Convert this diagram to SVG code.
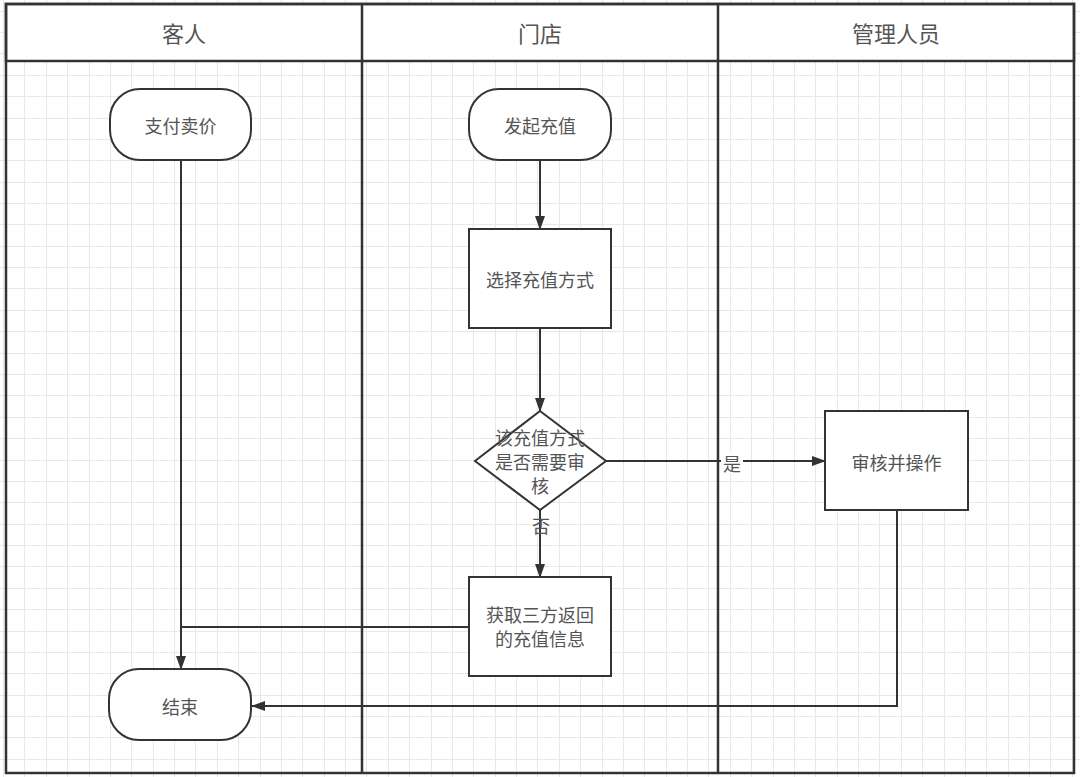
<svg xmlns="http://www.w3.org/2000/svg" width="1080" height="777" viewBox="0 0 1080 777">
<defs>
<marker id="arr" viewBox="0 0 14 12" refX="13" refY="6" markerWidth="14" markerHeight="12" markerUnits="userSpaceOnUse" orient="auto">
<path d="M0 1 L14 6 L0 11 Z" fill="#333"/>
</marker>
<style>
.grid{fill:none;stroke:#e8e8e8;stroke-width:1}
.lane{fill:none;stroke:#333;stroke-width:2.5}
.hdr{fill:#fff;stroke:#333;stroke-width:2.5}
.node{fill:#fff;stroke:#333;stroke-width:2}
.t{font-family:"Noto Sans CJK SC","Liberation Sans",sans-serif;font-size:18px;fill:#555;text-anchor:middle;dominant-baseline:central}
.h{font-size:22px}
.c{fill:none;stroke:#333;stroke-width:2}
</style>
</defs>
<rect x="0" y="0" width="1080" height="777" fill="#fff"/>
<path class="grid" d="M3.5 0V777M24.5 0V777M46.5 0V777M67.5 0V777M89.5 0V777M110.5 0V777M131.5 0V777M153.5 0V777M174.5 0V777M195.5 0V777M217.5 0V777M238.5 0V777M260.5 0V777M281.5 0V777M302.5 0V777M324.5 0V777M345.5 0V777M366.5 0V777M388.5 0V777M409.5 0V777M431.5 0V777M452.5 0V777M473.5 0V777M495.5 0V777M516.5 0V777M537.5 0V777M559.5 0V777M580.5 0V777M602.5 0V777M623.5 0V777M644.5 0V777M666.5 0V777M687.5 0V777M708.5 0V777M730.5 0V777M751.5 0V777M773.5 0V777M794.5 0V777M815.5 0V777M837.5 0V777M858.5 0V777M879.5 0V777M901.5 0V777M922.5 0V777M944.5 0V777M965.5 0V777M986.5 0V777M1008.5 0V777M1029.5 0V777M1050.5 0V777M1072.5 0V777M0 11.5H1080M0 32.5H1080M0 53.5H1080M0 75.5H1080M0 96.5H1080M0 118.5H1080M0 139.5H1080M0 160.5H1080M0 182.5H1080M0 203.5H1080M0 224.5H1080M0 246.5H1080M0 267.5H1080M0 288.5H1080M0 310.5H1080M0 331.5H1080M0 353.5H1080M0 374.5H1080M0 395.5H1080M0 417.5H1080M0 438.5H1080M0 460.5H1080M0 481.5H1080M0 502.5H1080M0 524.5H1080M0 545.5H1080M0 566.5H1080M0 588.5H1080M0 609.5H1080M0 631.5H1080M0 652.5H1080M0 673.5H1080M0 695.5H1080M0 716.5H1080M0 737.5H1080M0 759.5H1080"/>
<g id="lanes">
<rect class="hdr" x="6" y="4" width="1068" height="57"/>
<line class="lane" x1="362" y1="4" x2="362" y2="773"/>
<line class="lane" x1="718" y1="4" x2="718" y2="773"/>
<rect class="lane" x="6" y="4" width="1068" height="769"/>
<text class="t h" x="184" y="32">客人</text>
<text class="t h" x="540" y="32">门店</text>
<text class="t h" x="896" y="32">管理人员</text>
</g>
<g id="connectors">
<line class="c" x1="181" y1="160" x2="181" y2="669" marker-end="url(#arr)"/>
<line class="c" x1="540" y1="160" x2="540" y2="229" marker-end="url(#arr)"/>
<line class="c" x1="540" y1="328" x2="540" y2="411" marker-end="url(#arr)"/>
<line class="c" x1="606" y1="461" x2="825" y2="461" marker-end="url(#arr)"/>
<line class="c" x1="540" y1="510" x2="540" y2="577" marker-end="url(#arr)"/>
<polyline class="c" points="469,627 181,627"/>
<polyline class="c" points="897,510 897,706 252,706" marker-end="url(#arr)"/>
<rect x="721" y="451" width="22" height="22" fill="#fff"/>
<text class="t" x="732" y="463">是</text>
<text class="t" x="541" y="525">否</text>
</g>
<g id="n-pay">
<rect class="node" x="110" y="89" width="141" height="71" rx="30" ry="30"/>
<text class="t" x="180.5" y="125">支付卖价</text>
</g>
<g id="n-start">
<rect class="node" x="469" y="89" width="142" height="71" rx="30" ry="30"/>
<text class="t" x="540" y="125">发起充值</text>
</g>
<g id="n-select">
<rect class="node" x="469" y="229" width="142" height="99"/>
<text class="t" x="540" y="279">选择充值方式</text>
</g>
<g id="n-decision">
<polygon class="node" points="540,411 606,461 540,510 475,461"/>
<text class="t" x="540" y="437">该充值方式</text>
<text class="t" x="540" y="461">是否需要审</text>
<text class="t" x="540" y="485">核</text>
</g>
<g id="n-review">
<rect class="node" x="825" y="411" width="143" height="99"/>
<text class="t" x="896.5" y="462">审核并操作</text>
</g>
<g id="n-fetch">
<rect class="node" x="469" y="577" width="142" height="99"/>
<text class="t" x="540" y="614">获取三方返回</text>
<text class="t" x="540" y="638">的充值信息</text>
</g>
<g id="n-end">
<rect class="node" x="109" y="669" width="142" height="71" rx="30" ry="30"/>
<text class="t" x="180" y="706">结束</text>
</g>
</svg>
